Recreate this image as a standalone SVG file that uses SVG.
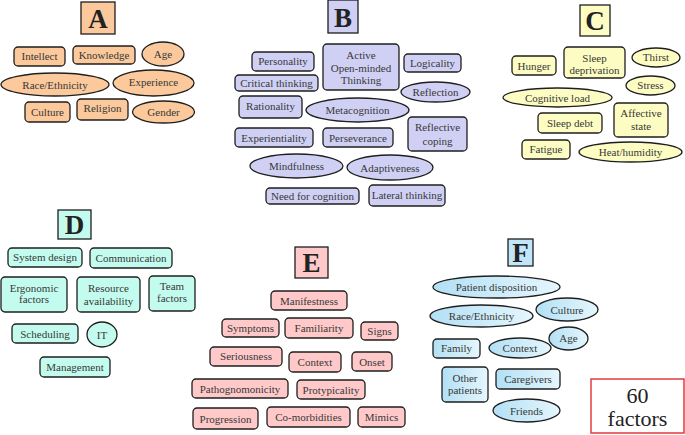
<svg xmlns="http://www.w3.org/2000/svg" width="685" height="435" viewBox="0 0 685 435">
<defs>
<linearGradient id="gf" x1="0" y1="0" x2="1" y2="0">
<stop offset="0" stop-color="#b2e0f5"/>
<stop offset="1" stop-color="#e6f6fd"/>
</linearGradient>
<style>
rect,ellipse{stroke:#1e1e1e;stroke-width:1.3}
rect.n{rx:4;ry:4}
text{font-family:"Liberation Serif","Times New Roman",serif;font-size:11px;fill:#383838;text-anchor:middle}
text.L{font-size:27px;font-weight:bold;fill:#222}
.a rect,.a ellipse{fill:#fbc99b}
.b rect,.b ellipse{fill:#d0d0f5}
.c rect,.c ellipse{fill:#fdfdc3}
.d rect,.d ellipse{fill:#c3fcee}
.e rect,.e ellipse{fill:#ffc9c9}
.f rect,.f ellipse{fill:url(#gf)}
.f rect.hd{fill:#c0e6f8}
</style>
</defs>
<g id="connectors"/>
<!-- A -->
<g class="a" id="clusterA">
<g id="A"><rect x="81" y="2" width="34" height="32"/><text class="L" x="98" y="28">A</text></g>
<g id="A-intellect"><rect class="n" x="14" y="47" width="51" height="19"/><text x="39.5" y="60">Intellect</text></g>
<g id="A-knowledge"><rect class="n" x="73" y="46" width="62" height="18"/><text x="104" y="59">Knowledge</text></g>
<g id="A-age"><ellipse cx="163" cy="54" rx="21" ry="12"/><text x="163" y="58">Age</text></g>
<g id="A-race"><ellipse cx="55" cy="84.5" rx="54" ry="11.5"/><text x="55" y="88.5">Race/Ethnicity</text></g>
<g id="A-experience"><ellipse cx="153.5" cy="83" rx="40.5" ry="13"/><text x="153.5" y="86">Experience</text></g>
<g id="A-culture"><rect class="n" x="25" y="102" width="45" height="20"/><text x="47.5" y="115.5">Culture</text></g>
<g id="A-religion"><rect class="n" x="77" y="99" width="51" height="21"/><text x="102.5" y="112">Religion</text></g>
<g id="A-gender"><ellipse cx="163.5" cy="112" rx="31" ry="11"/><text x="163.5" y="116">Gender</text></g>
</g>
<!-- B -->
<g class="b" id="clusterB">
<g id="B"><rect x="328" y="0" width="30" height="33"/><text class="L" x="343" y="27">B</text></g>
<g id="B-personality"><rect class="n" x="252" y="52" width="62" height="19"/><text x="283" y="65">Personality</text></g>
<g id="B-aot"><rect class="n" x="323" y="44" width="76" height="46"/><text x="361" y="59">Active</text><text x="361" y="71.5">Open-minded</text><text x="361" y="84">Thinking</text></g>
<g id="B-logicality"><rect class="n" x="404" y="54" width="57" height="18"/><text x="432.5" y="67">Logicality</text></g>
<g id="B-critical"><rect class="n" x="235" y="75" width="83" height="16"/><text x="276.5" y="87">Critical thinking</text></g>
<g id="B-reflection"><ellipse cx="435.5" cy="92" rx="34.5" ry="10"/><text x="435.5" y="96">Reflection</text></g>
<g id="B-rationality"><rect class="n" x="239" y="96" width="63" height="22"/><text x="270.5" y="110">Rationality</text></g>
<g id="B-metacognition"><ellipse cx="357.5" cy="110" rx="51.5" ry="12"/><text x="357.5" y="114">Metacognition</text></g>
<g id="B-experientiality"><rect class="n" x="235" y="128" width="78" height="19"/><text x="274" y="141.5">Experientiality</text></g>
<g id="B-perseverance"><rect class="n" x="323" y="128" width="70" height="19"/><text x="358" y="141.5">Perseverance</text></g>
<g id="B-refcoping"><rect class="n" x="408" y="117" width="59" height="34"/><text x="437.5" y="131">Reflective</text><text x="437.5" y="145">coping</text></g>
<g id="B-mindfulness"><ellipse cx="296.5" cy="166" rx="46.5" ry="12"/><text x="296.5" y="170">Mindfulness</text></g>
<g id="B-adaptiveness"><ellipse cx="390" cy="167.5" rx="43" ry="12.5"/><text x="390" y="171.5">Adaptiveness</text></g>
<g id="B-nfc"><rect class="n" x="266" y="188" width="93" height="16"/><text x="312.5" y="200">Need for cognition</text></g>
<g id="B-lateral"><rect class="n" x="369" y="185" width="76" height="21"/><text x="407" y="198.5">Lateral thinking</text></g>
</g>
<!-- C -->
<g class="c" id="clusterC">
<g id="C"><rect x="580" y="5" width="30" height="31"/><text class="L" x="595" y="30">C</text></g>
<g id="C-hunger"><rect class="n" x="512" y="56" width="44" height="19"/><text x="534" y="69.5">Hunger</text></g>
<g id="C-sleepdep"><rect class="n" x="564" y="47" width="61" height="31"/><text x="594.5" y="62">Sleep</text><text x="594.5" y="74">deprivation</text></g>
<g id="C-thirst"><ellipse cx="656" cy="57.5" rx="24" ry="9.5"/><text x="656" y="61">Thirst</text></g>
<g id="C-stress"><ellipse cx="650.5" cy="85.5" rx="24.5" ry="9.5"/><text x="650.5" y="89">Stress</text></g>
<g id="C-cogload"><ellipse cx="557.5" cy="97.5" rx="54.5" ry="9.5"/><text x="557.5" y="101.5">Cognitive load</text></g>
<g id="C-affective"><rect class="n" x="614" y="103" width="54" height="34"/><text x="641" y="116.5">Affective</text><text x="641" y="129.5">state</text></g>
<g id="C-sleepdebt"><rect class="n" x="538" y="113" width="64" height="20"/><text x="570" y="127">Sleep debt</text></g>
<g id="C-fatigue"><rect class="n" x="522" y="140" width="48" height="19"/><text x="546" y="152.5">Fatigue</text></g>
<g id="C-heat"><ellipse cx="630.5" cy="152" rx="51.5" ry="10"/><text x="630.5" y="156">Heat/humidity</text></g>
</g>
<!-- D -->
<g class="d" id="clusterD">
<g id="D"><rect x="58" y="210" width="33" height="29"/><text class="L" x="74.5" y="234">D</text></g>
<g id="D-sysdesign"><rect class="n" x="8" y="248" width="74" height="19"/><text x="45" y="260.5">System design</text></g>
<g id="D-communication"><rect class="n" x="90" y="248" width="82" height="20"/><text x="131" y="262">Communication</text></g>
<g id="D-ergonomic"><rect class="n" x="1" y="277" width="66" height="35"/><text x="34" y="292">Ergonomic</text><text x="34" y="303">factors</text></g>
<g id="D-resource"><rect class="n" x="77" y="277" width="63" height="35"/><text x="108.5" y="292">Resource</text><text x="108.5" y="305">availability</text></g>
<g id="D-team"><rect class="n" x="149" y="276" width="46" height="35"/><text x="172" y="290">Team</text><text x="172" y="302">factors</text></g>
<g id="D-scheduling"><rect class="n" x="12" y="324" width="66" height="19"/><text x="45" y="337.5">Scheduling</text></g>
<g id="D-it"><ellipse cx="102" cy="334.5" rx="15" ry="12.5"/><text x="102" y="338.5">IT</text></g>
<g id="D-management"><rect class="n" x="40" y="357" width="70" height="20"/><text x="75" y="371">Management</text></g>
</g>
<!-- E -->
<g class="e" id="clusterE">
<g id="E"><rect x="295" y="247" width="33" height="31"/><text class="L" x="311.5" y="272">E</text></g>
<g id="E-manifestness"><rect class="n" x="271" y="291" width="76" height="19"/><text x="309" y="304.5">Manifestness</text></g>
<g id="E-symptoms"><rect class="n" x="222" y="319" width="57" height="18"/><text x="250.5" y="332">Symptoms</text></g>
<g id="E-familiarity"><rect class="n" x="285" y="318" width="68" height="20"/><text x="319" y="331.5">Familiarity</text></g>
<g id="E-signs"><rect class="n" x="361" y="322" width="37" height="18"/><text x="379.5" y="335">Signs</text></g>
<g id="E-seriousness"><rect class="n" x="210" y="347" width="72" height="19"/><text x="246" y="360">Seriousness</text></g>
<g id="E-context"><rect class="n" x="289" y="352" width="52" height="20"/><text x="315" y="366">Context</text></g>
<g id="E-onset"><rect class="n" x="352" y="352" width="40" height="19"/><text x="372" y="365.5">Onset</text></g>
<g id="E-patho"><rect class="n" x="192" y="379" width="96" height="19"/><text x="240" y="392.5">Pathognomonicity</text></g>
<g id="E-protypicality"><rect class="n" x="297" y="380" width="68" height="19"/><text x="331" y="393.5">Protypicality</text></g>
<g id="E-progression"><rect class="n" x="193" y="408" width="65" height="21"/><text x="225.5" y="422.5">Progression</text></g>
<g id="E-comorbidities"><rect class="n" x="267" y="407" width="83" height="20"/><text x="308.5" y="420.5">Co-morbidities</text></g>
<g id="E-mimics"><rect class="n" x="358" y="407" width="47" height="20"/><text x="381.5" y="420.5">Mimics</text></g>
</g>
<!-- F -->
<g class="f" id="clusterF">
<g id="F"><rect class="hd" x="508" y="239" width="25" height="27"/><text class="L" x="520.5" y="262">F</text></g>
<g id="F-patient"><ellipse cx="496.5" cy="287" rx="63.5" ry="11"/><text x="496.5" y="291">Patient disposition</text></g>
<g id="F-race"><ellipse cx="481.5" cy="316" rx="51.5" ry="11"/><text x="481.5" y="320">Race/Ethnicity</text></g>
<g id="F-culture"><ellipse cx="567" cy="309.5" rx="31" ry="11.5"/><text x="567" y="313.5">Culture</text></g>
<g id="F-age"><ellipse cx="568.5" cy="338.5" rx="19.5" ry="11.5"/><text x="568.5" y="342">Age</text></g>
<g id="F-family"><rect class="n" x="433" y="339" width="47" height="19"/><text x="456.5" y="352">Family</text></g>
<g id="F-context"><ellipse cx="520" cy="348" rx="31" ry="10"/><text x="520" y="352">Context</text></g>
<g id="F-other"><rect class="n" x="442" y="367" width="46" height="35"/><text x="465" y="382">Other</text><text x="465" y="394">patients</text></g>
<g id="F-caregivers"><rect class="n" x="496" y="369" width="64" height="20"/><text x="528" y="382.5">Caregivers</text></g>
<g id="F-friends"><ellipse cx="526.5" cy="410.5" rx="33.5" ry="11.5"/><text x="526.5" y="414.5">Friends</text></g>
</g>
<g id="total">
<rect x="591" y="379" width="93" height="54" fill="#fff" style="stroke:#e23b3b;stroke-width:1.5"/>
<text x="637.5" y="403" style="font-size:22px;fill:#222">60</text>
<text x="637.5" y="426" style="font-size:22px;fill:#222">factors</text>
</g>
</svg>
